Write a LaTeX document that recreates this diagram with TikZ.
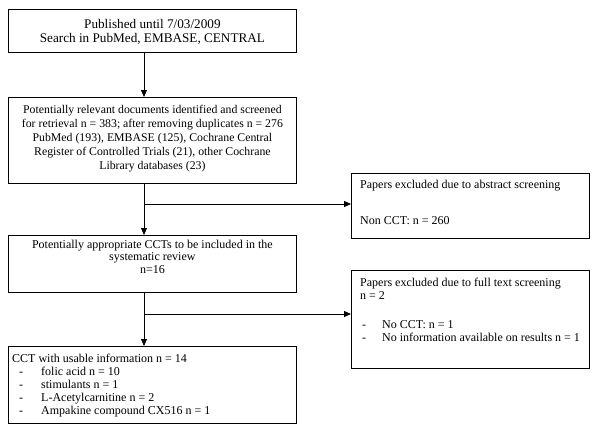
\documentclass[tikz,border=0pt]{standalone}
\usepackage{fontspec}
\setmainfont{Liberation Serif}
\usetikzlibrary{positioning,arrows.meta}

\tikzset{
  stage/.style={draw, line width=0.8pt, anchor=north west, inner sep=0pt},
  stagetext/.style={inner sep=0pt, font=\fontsize{12}{13}\selectfont},
  flow/.style={line width=0.8pt, -{Triangle[length=7pt,width=6pt]}},
}
\newcommand{\dashitem}[3]{\hspace*{#1}\makebox[#2][l]{-}#3}

\begin{document}
\begin{tikzpicture}[x=1pt,y=-1pt]
  \useasboundingbox (0,0) rectangle (600,440);

  % Boxes
  \node[stage, minimum width=288, minimum height=43] (search) at (8,9) {};
  \node[stage, minimum width=288, minimum height=86] (screened) at (8,97) {};
  \node[stage, minimum width=238, minimum height=65] (abstract) at (351,173) {};
  \node[stage, minimum width=288, minimum height=57] (eligible) at (8,235) {};
  \node[stage, minimum width=238, minimum height=98] (fulltext) at (351,270) {};
  \node[stage, minimum width=288, minimum height=77] (included) at (8,346) {};

  % Texts
  \node[stagetext, align=center, anchor=north, font=\fontsize{13.2}{14}\selectfont] (searchtxt)
    at ([yshift=-10pt]search.north)
    {Published until 7/03/2009\\Search in PubMed, EMBASE, CENTRAL};
  \node[stagetext, align=center, anchor=north, font=\fontsize{11.8}{14}\selectfont] (screenedtxt)
    at ([yshift=-8pt]screened.north)
    {Potentially relevant documents identified and screened\\
     for retrieval n = 383; after removing duplicates n = 276\\
     PubMed (193), EMBASE (125), Cochrane Central\\
     Register of Controlled Trials (21), other Cochrane\\
     Library databases (23)};
  \node[stagetext, align=left, anchor=north west] (abstracttxt) at ([xshift=9pt,yshift=-7pt]abstract.north west)
    {Papers excluded due to abstract screening\\[23pt]
     Non CCT: n = 260};
  \node[stagetext, align=center, anchor=north, font=\fontsize{12}{12.5}\selectfont] (eligibletxt)
    at ([yshift=-4.5pt]eligible.north)
    {Potentially appropriate CCTs to be included in the\\
     systematic review\\
     n=16};
  \node[stagetext, align=left, anchor=north west] (fulltexttxt) at ([xshift=9pt,yshift=-8pt]fulltext.north west)
    {Papers excluded due to full text screening\\
     n = 2\\[16pt]
     \dashitem{2pt}{20pt}{No CCT: n = 1}\\
     \dashitem{2pt}{20pt}{No information available on results n = 1}};
  \node[stagetext, align=left, anchor=north west] (includedtxt) at ([xshift=4pt,yshift=-7.5pt]included.north west)
    {CCT with usable information n = 14\\
     \dashitem{7pt}{22pt}{folic acid n = 10}\\
     \dashitem{7pt}{22pt}{stimulants n = 1}\\
     \dashitem{7pt}{22pt}{L-Acetylcarnitine n = 2}\\
     \dashitem{7pt}{22pt}{Ampakine compound CX516 n = 1}};

  % Connectors
  \coordinate (spine) at (144,0);
  \coordinate (abstractin) at ([yshift=-31pt]abstract.north west);
  \coordinate (fulltextin) at ([yshift=-44pt]fulltext.north west);
  \draw[flow] (spine |- search.south) -- (spine |- screened.north);
  \draw[flow] (spine |- screened.south) -- (spine |- eligible.north);
  \draw[flow] (spine |- abstractin) -- (abstractin);
  \draw[flow] (spine |- eligible.south) -- (spine |- included.north);
  \draw[flow] (spine |- fulltextin) -- (fulltextin);
\end{tikzpicture}
\end{document}
